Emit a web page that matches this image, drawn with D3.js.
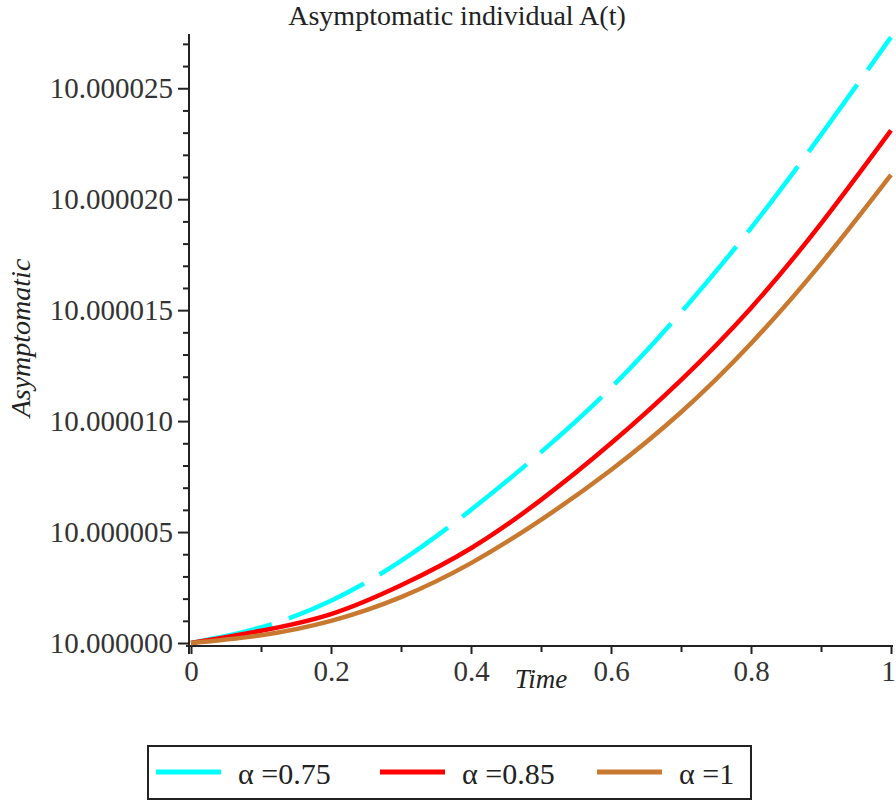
<!DOCTYPE html>
<html>
<head>
<meta charset="utf-8">
<script src="https://cdn.jsdelivr.net/npm/d3@7"></script>
<style>
    body { margin: 0; background: #fff; }
    svg { display: block; }
</style>
</head>
<body>
<svg id="chart" width="896" height="802"></svg>
<script>
let timeValues = [0, 0.1, 0.2, 0.3, 0.4, 0.5, 0.6, 0.7, 0.8, 0.9, 1];

let alpha075 = [10.0, 10.0000007, 10.0000019, 10.0000037, 10.000006, 10.0000086,
    10.0000115, 10.0000149, 10.0000187, 10.0000229, 10.0000273];
let alpha085 = [10.0, 10.00000055, 10.0000013, 10.0000026, 10.00000427, 10.00000645,
    10.000009, 10.00001185, 10.0000151, 10.0000189, 10.0000231];
let alpha1 = [10.0, 10.00000035, 10.000001, 10.00000207, 10.0000036, 10.00000555,
    10.0000078, 10.0000104, 10.0000135, 10.0000171, 10.0000211];

let seriesNames = ["\u03b1 =0.75", "\u03b1 =0.85", "\u03b1 =1"];
let seriesColors = ["#00ffff", "#ff0000", "#c8792f"];

let xMajorTicks = [0, 0.2, 0.4, 0.6, 0.8, 1];
let xMinorTicks = [0.1, 0.3, 0.5, 0.7, 0.9];
let yMajorTicks = [10.0, 10.000005, 10.00001, 10.000015, 10.00002, 10.000025];
let yMinorTicks = [1, 2, 3, 4, 6, 7, 8, 9, 11, 12, 13, 14, 16, 17, 18, 19, 21, 22, 23, 24, 26, 27]
    .map(d => 10 + d * 1e-6);

let titleText = "Asymptomatic individual A(t)";
let xLabel = "Time";
let yLabel = "Asymptomatic";

var serif = "'Liberation Serif', 'Times New Roman', serif";

let svg = d3.select("#chart");

let x = d3.scaleLinear().domain([0, 1]).range([191, 891]);
let y = d3.scaleLinear().domain([10, 10.0000274]).range([643, 35]);

// title
svg.append("text")
    .attr("x", 457)
    .attr("y", 25)
    .attr("text-anchor", "middle")
    .style("font-family", serif)
    .style("font-size", "28px")
    .attr("fill", "#222")
    .text(titleText);

// y axis
let yAxis = svg.append("g").attr("transform", "translate(189,0)");
yAxis.call(d3.axisLeft(y)
    .tickValues(yMajorTicks)
    .tickFormat(d3.format(".6f"))
    .tickSize(11)
    .tickPadding(5));
yAxis.append("g").call(d3.axisLeft(y)
    .tickValues(yMinorTicks)
    .tickFormat("")
    .tickSize(6));
yAxis.selectAll(".domain").remove();
yAxis.append("line")
    .attr("x1", 0).attr("x2", 0)
    .attr("y1", 34).attr("y2", 654)
    .attr("stroke", "#222")
    .attr("stroke-width", 2);

// x axis
let xAxis = svg.append("g").attr("transform", "translate(0,646)");
xAxis.call(d3.axisBottom(x)
    .tickValues(xMajorTicks)
    .tickFormat(d => d3.format("")(d))
    .tickSize(8)
    .tickPadding(6));
xAxis.append("g").call(d3.axisBottom(x)
    .tickValues(xMinorTicks)
    .tickFormat("")
    .tickSize(6));
xAxis.selectAll(".domain").remove();
xAxis.append("line")
    .attr("x1", 186).attr("x2", 893)
    .attr("y1", 0).attr("y2", 0)
    .attr("stroke", "#222")
    .attr("stroke-width", 2);

svg.selectAll(".tick line")
    .attr("stroke", "#222")
    .attr("stroke-width", 2);
svg.selectAll(".tick text")
    .style("font-family", serif)
    .style("font-size", "29px")
    .attr("fill", "#333");
// last x label sits against the right edge
xAxis.selectAll(".tick text")
    .filter(d => d === 1)
    .attr("dx", -3);

// axis labels
svg.append("text")
    .attr("x", 541)
    .attr("y", 688)
    .attr("text-anchor", "middle")
    .style("font-family", serif)
    .style("font-style", "italic")
    .style("font-size", "27px")
    .attr("fill", "#222")
    .text(xLabel);

svg.append("text")
    .attr("transform", "translate(30,338) rotate(-90)")
    .attr("text-anchor", "middle")
    .style("font-family", serif)
    .style("font-style", "italic")
    .style("font-size", "28px")
    .attr("fill", "#222")
    .text(yLabel);

// curves
let seriesData = [alpha075, alpha085, alpha1].map((vals, i) => {
    return {
        name: seriesNames[i],
        color: seriesColors[i],
        points: vals.map((v, j) => [timeValues[j], v])
    };
});

let line = d3.line()
    .x(d => x(d[0]))
    .y(d => y(d[1]))
    .curve(d3.curveNatural);

svg.append("g").selectAll("path")
    .data(seriesData)
    .enter().append("path")
    .attr("fill", "none")
    .attr("stroke", d => d.color)
    .attr("stroke-width", 4.5)
    .attr("stroke-dasharray", (d, i) => i === 0 ? "83,18" : null)
    .attr("d", d => line(d.points));

// legend
let legend = svg.append("g");
legend.append("rect")
    .attr("x", 148)
    .attr("y", 746)
    .attr("width", 603)
    .attr("height", 53)
    .attr("fill", "#fff")
    .attr("stroke", "#222")
    .attr("stroke-width", 2);

let legendX = [156, 380, 597];
let item = legend.selectAll("g.item")
    .data(seriesData)
    .enter().append("g")
    .attr("class", "item")
    .attr("transform", (d, i) => "translate(" + legendX[i] + ",772)");
item.append("line")
    .attr("x1", 0).attr("x2", 65)
    .attr("y1", 0).attr("y2", 0)
    .attr("stroke", d => d.color)
    .attr("stroke-width", 5);
item.append("text")
    .attr("x", 82)
    .attr("y", 12)
    .style("font-family", serif)
    .style("font-size", "30px")
    .attr("fill", "#222")
    .text(d => d.name);
</script>
</body>
</html>
